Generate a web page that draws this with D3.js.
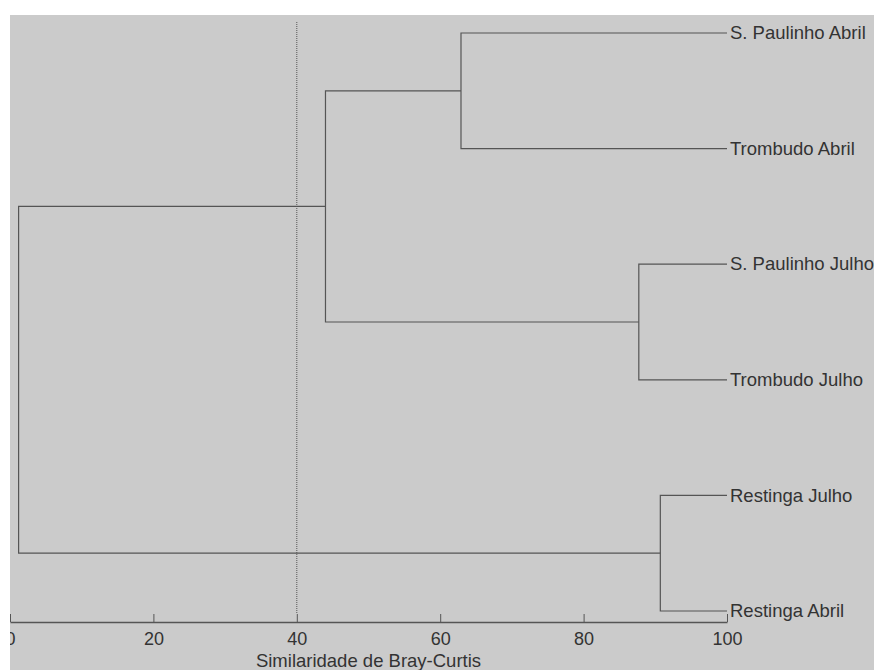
<!DOCTYPE html>
<html>
<head>
<meta charset="utf-8">
<script src="https://cdn.jsdelivr.net/npm/d3@7"></script>
<style>
  body { margin: 0; background: #ffffff; }
  text { font-family: "Liberation Sans", Arial, sans-serif; }
</style>
</head>
<body>
<div id="chart"></div>
<script>
var svgWidth = 874;
var svgHeight = 670;

// leaves in display order (top to bottom)
var leafNames = ["S. Paulinho Abril", "Trombudo Abril", "S. Paulinho Julho",
  "Trombudo Julho", "Restinga Julho", "Restinga Abril"];

// merges: negative = leaf index (-1 based), positive = earlier merge (1 based)
var mergeLeft = [-1, -3, -5, 1, 4];
var mergeRight = [-2, -4, -6, 2, 3];
var mergeSimilarity = [62.9, 87.7, 90.7, 44.0, 1.2];

var tickValues = [0, 20, 40, 60, 80, 100];
var cutLevel = 40;
var axisTitle = "Similaridade de Bray-Curtis";

var fontSize = "18.5px";

var svg = d3.select("#chart")
  .append("svg")
  .attr("width", svgWidth)
  .attr("height", svgHeight);

svg.append("defs").append("clipPath")
  .attr("id", "plotClip")
  .append("rect")
  .attr("x", 10).attr("y", 15)
  .attr("width", svgWidth - 10).attr("height", svgHeight - 15);

svg.append("rect")
  .attr("x", 10).attr("y", 15)
  .attr("width", svgWidth - 10).attr("height", svgHeight - 15)
  .attr("fill", "#cbcbcb");

var g = svg.append("g").attr("clip-path", "url(#plotClip)");

var x = d3.scaleLinear().domain([0, 100]).range([10, 727]);
var y = d3.scalePoint().domain(leafNames).range([33, 611]);

// position of each merge node
var nodes = [];
function pos(id) {
  if (id < 0) return { x: x(100), y: y(leafNames[-id - 1]) };
  return nodes[id - 1];
}

var lineColor = "#555555";

mergeSimilarity.forEach(function(s, i) {
  var a = pos(mergeLeft[i]);
  var b = pos(mergeRight[i]);
  var nx = x(s);
  var node = { x: nx, y: (a.y + b.y) / 2 };
  nodes.push(node);

  g.append("path")
    .attr("d", `M${a.x},${a.y}H${nx}V${b.y}H${b.x}`)
    .attr("fill", "none")
    .attr("stroke", lineColor)
    .attr("stroke-width", 1.2);
});

// leaf labels
g.selectAll(".leaf")
  .data(leafNames)
  .enter()
  .append("text")
  .attr("class", "leaf")
  .attr("x", x(100) + 3)
  .attr("y", d => y(d))
  .attr("dy", "0.33em")
  .attr("font-size", fontSize)
  .attr("fill", "#333333")
  .text(d => d);

// dotted cut line
g.append("line")
  .attr("x1", x(cutLevel)).attr("x2", x(cutLevel))
  .attr("y1", 22).attr("y2", 614)
  .attr("stroke", "#555555")
  .attr("stroke-width", 1)
  .attr("stroke-dasharray", "1,1");

// axis
var bottomAxis = d3.axisBottom(x)
  .tickValues(tickValues)
  .tickSizeInner(-8)
  .tickSizeOuter(0)
  .tickPadding(10)
  .tickFormat(d3.format("d"));

var xAxis = g.append("g")
  .attr("transform", "translate(0, 622)")
  .call(bottomAxis);

xAxis.select(".domain").attr("stroke", lineColor).attr("stroke-width", 1.5);
xAxis.selectAll(".tick line").attr("stroke", lineColor);
xAxis.selectAll(".tick text")
  .attr("font-size", "18px")
  .attr("font-family", "Liberation Sans, Arial, sans-serif")
  .attr("fill", "#333333");

g.append("text")
  .attr("x", (x(0) + x(100)) / 2)
  .attr("y", 667)
  .attr("text-anchor", "middle")
  .attr("font-size", fontSize)
  .attr("fill", "#333333")
  .text(axisTitle);
</script>
</body>
</html>
